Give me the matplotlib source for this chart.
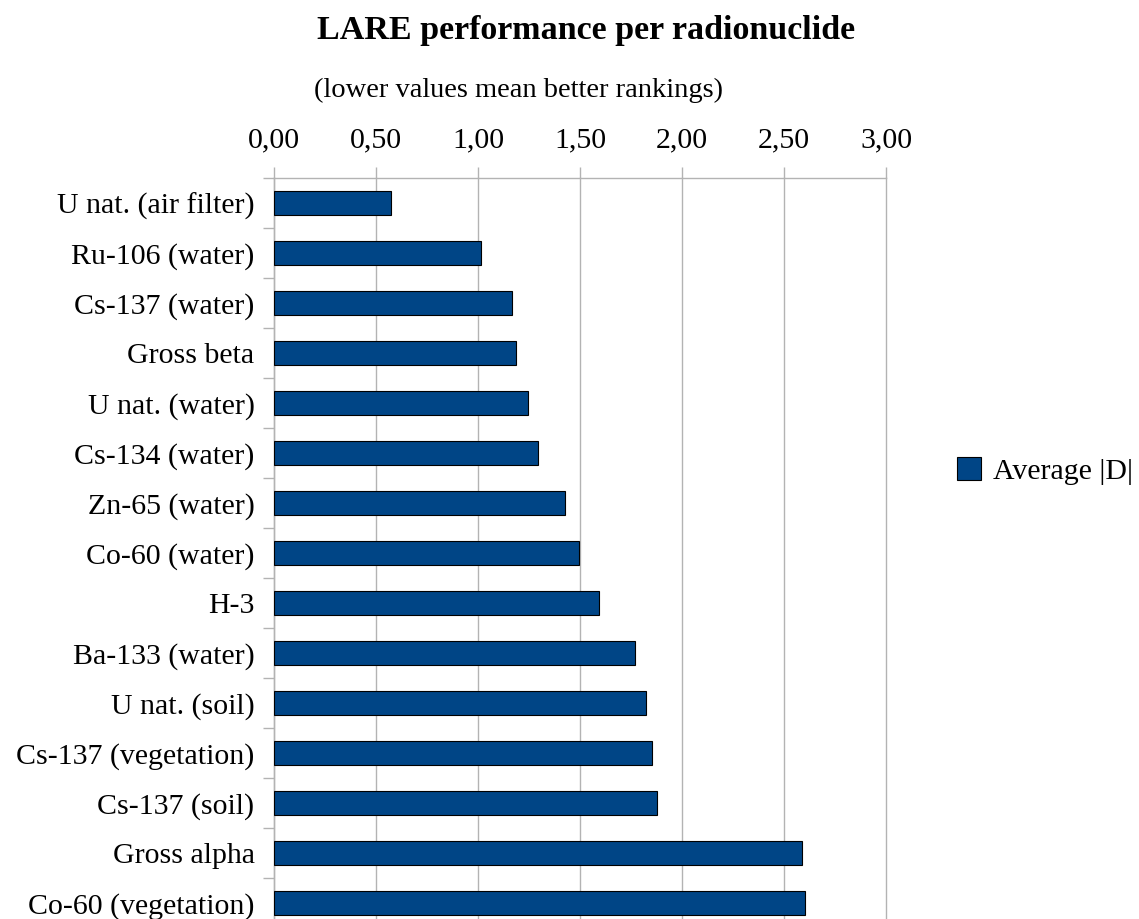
import numpy as np
import matplotlib.pyplot as plt
from matplotlib.ticker import FixedLocator, FuncFormatter

# data
labels = ['U nat. (air filter)', 'Ru-106 (water)', 'Cs-137 (water)', 'Gross beta',
          'U nat. (water)', 'Cs-134 (water)', 'Zn-65 (water)', 'Co-60 (water)',
          'H-3', 'Ba-133 (water)', 'U nat. (soil)', 'Cs-137 (vegetation)',
          'Cs-137 (soil)', 'Gross alpha', 'Co-60 (vegetation)']
avg_d = [0.574, 1.016, 1.167, 1.188, 1.245, 1.296, 1.428, 1.494,
         1.593, 1.770, 1.824, 1.855, 1.877, 2.590, 2.605]
xticks = [0, 0.5, 1.0, 1.5, 2.0, 2.5, 3.0]

plt.rcParams['font.family'] = ['Liberation Serif', 'DejaVu Serif']

W, H = 1139, 919
fig = plt.figure(figsize=(W / 100, H / 100), dpi=100)
ax = fig.add_axes([274 / W, (H - 928) / H, 612 / W, 750 / H])

grey = '#b3b3b3'
y = np.arange(len(labels))
bars = ax.barh(y, avg_d, height=0.49, color='#004586', edgecolor='black',
               linewidth=0.8, label='Average |D|', zorder=3)

ax.set_xlim(0, 3.0)
ax.set_ylim(len(labels) - 0.5, -0.5)
ax.set_yticks(y)
ax.set_yticklabels(labels, fontsize=21.5)
ax.yaxis.set_minor_locator(FixedLocator(np.arange(-0.5, len(labels), 1)))
ax.tick_params(axis='y', which='major', length=0, pad=14)
ax.tick_params(axis='y', which='minor', length=8, color=grey, width=1)

ax.xaxis.tick_top()
ax.set_xticks(xticks)
ax.xaxis.set_major_formatter(FuncFormatter(lambda v, p: f'{v:.2f}'.replace('.', ',')))
ax.tick_params(axis='x', length=8, color=grey, width=1, pad=10, labelsize=21.5)
ax.grid(axis='x', color=grey, linewidth=1, zorder=0)
for gl in ax.xaxis.get_gridlines():
    gl.set_clip_on(False)

for s in ['bottom', 'right']:
    ax.spines[s].set_visible(False)
for s in ['top', 'left']:
    ax.spines[s].set_color(grey)
    ax.spines[s].set_linewidth(1)

fig.text(586 / W, 1 - 31 / H, 'LARE performance per radionuclide', ha='center',
         va='center', fontsize=24.5, fontweight='bold')
fig.text(518 / W, 1 - 90 / H, '(lower values mean better rankings)', ha='center',
         va='center', fontsize=20.5)

fig.legend(handles=[bars], labels=['Average |D|'], loc='center left',
           bbox_to_anchor=(930 / W, 1 - 471 / H), frameon=False, fontsize=21.5,
           handlelength=0.8, handleheight=0.8, handletextpad=0.4)

fig.savefig('out.png', dpi=100)
